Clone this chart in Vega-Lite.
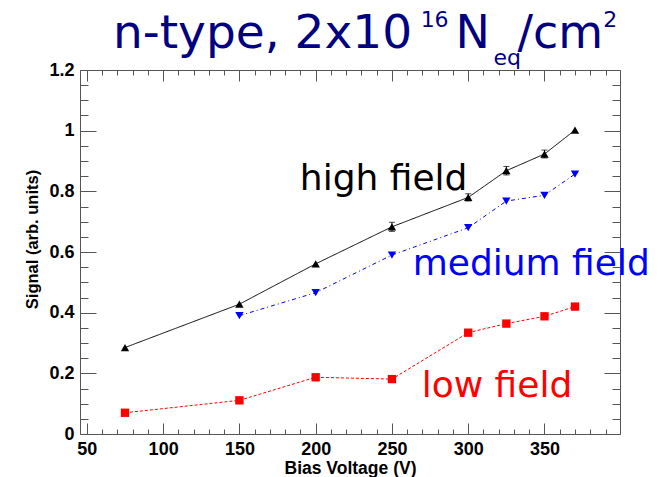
{
  "$schema": "https://vega.github.io/schema/vega-lite/v6.json",
  "width": 540,
  "height": 364,
  "autosize": {"type": "none"},
  "padding": {"left": 80, "top": 70, "right": 49, "bottom": 43},
  "background": "white",
  "config": {"view": {"stroke": "#555", "strokeWidth": 1}},
  "datasets": {
    "main": [
      {"V": 75, "S": 0.285, "series": "high"},
      {"V": 150, "S": 0.428, "series": "high"},
      {"V": 200, "S": 0.561, "series": "high"},
      {"V": 250, "S": 0.683, "series": "high"},
      {"V": 300, "S": 0.780, "series": "high"},
      {"V": 325, "S": 0.868, "series": "high"},
      {"V": 350, "S": 0.923, "series": "high"},
      {"V": 370, "S": 1.002, "series": "high"},
      {"V": 150, "S": 0.390, "series": "medium"},
      {"V": 200, "S": 0.466, "series": "medium"},
      {"V": 250, "S": 0.590, "series": "medium"},
      {"V": 300, "S": 0.680, "series": "medium"},
      {"V": 325, "S": 0.768, "series": "medium"},
      {"V": 350, "S": 0.787, "series": "medium"},
      {"V": 370, "S": 0.857, "series": "medium"},
      {"V": 75, "S": 0.070, "series": "low"},
      {"V": 150, "S": 0.111, "series": "low"},
      {"V": 200, "S": 0.187, "series": "low"},
      {"V": 250, "S": 0.181, "series": "low"},
      {"V": 300, "S": 0.334, "series": "low"},
      {"V": 325, "S": 0.364, "series": "low"},
      {"V": 350, "S": 0.388, "series": "low"},
      {"V": 370, "S": 0.420, "series": "low"}
    ],
    "err": [
      {"V": 250, "lo": 0.668, "hi": 0.698},
      {"V": 300, "lo": 0.768, "hi": 0.792},
      {"V": 325, "lo": 0.854, "hi": 0.882},
      {"V": 350, "lo": 0.910, "hi": 0.936}
    ],
    "one": [{"k": 1}]
  },
  "resolve": {"axis": {"x": "independent", "y": "independent"}},
  "layer": [
    {
      "data": {"name": "main"},
      "mark": {"type": "line", "strokeWidth": 1},
      "encoding": {
        "x": {"field": "V", "type": "quantitative",
          "scale": {"domain": [45.5, 399.5], "nice": false, "zero": false},
          "axis": {"orient": "bottom", "values": [50, 100, 150, 200, 250, 300, 350], "tickSize": -11, "tickColor": "#555",
            "domain": false, "grid": false, "labelFont": "Liberation Sans", "labelFontWeight": "bold", "labelFontSize": 18,
            "labelColor": "black", "labelPadding": 17, "labelFlush": false,
            "title": "Bias Voltage (V)", "titleFont": "Liberation Sans", "titleFontWeight": "bold", "titleFontSize": 17.5, "titleColor": "black",
            "titleY": 39, "titleBaseline": "alphabetic", "titleAlign": "center"}},
        "y": {"field": "S", "type": "quantitative",
          "scale": {"domain": [0, 1.2], "nice": false, "zero": false},
          "axis": {"orient": "left", "values": [0, 0.2, 0.4, 0.6, 0.8, 1, 1.2], "tickSize": -16, "tickColor": "#555",
            "domain": false, "grid": false, "labelFont": "Liberation Sans", "labelFontWeight": "bold", "labelFontSize": 18,
            "labelColor": "black", "labelPadding": 22, "labelFlush": false, "labelExpr": "format(datum.value, '~g')",
            "title": "Signal (arb. units)", "titleFont": "Liberation Sans", "titleFontWeight": "bold", "titleFontSize": 16.5, "titleColor": "black",
            "titleAngle": -90, "titleX": -48, "titleY": 169, "titleAlign": "center", "titleBaseline": "middle"}},
        "color": {"field": "series", "type": "nominal", "scale": {"domain": ["high", "medium", "low"], "range": ["#000000", "#0000ff", "#ff0000"]}, "legend": null},
        "strokeDash": {"field": "series", "type": "nominal", "scale": {"domain": ["high", "medium", "low"], "range": [[1, 0], [4, 3, 1, 3], [3, 2]]}, "legend": null}
      }
    },
    {
      "data": {"name": "err"},
      "mark": {"type": "errorbar", "color": "black", "ticks": {"size": 6}},
      "encoding": {
        "x": {"field": "V", "type": "quantitative", "scale": {"domain": [45.5, 399.5], "nice": false, "zero": false}, "axis": null},
        "y": {"field": "lo", "type": "quantitative", "scale": {"domain": [0, 1.2], "nice": false, "zero": false}, "axis": null},
        "y2": {"field": "hi"}
      }
    },
    {
      "data": {"name": "main"},
      "mark": {"type": "point", "filled": true, "opacity": 1, "size": 70},
      "encoding": {
        "x": {"field": "V", "type": "quantitative",
          "scale": {"domain": [45.5, 399.5], "nice": false, "zero": false},
          "axis": {"orient": "bottom", "values": [60, 70, 80, 90, 110, 120, 130, 140, 160, 170, 180, 190, 210, 220, 230, 240, 260, 270, 280, 290, 310, 320, 330, 340, 360, 370, 380, 390],
            "tickSize": -5, "tickColor": "#555", "domain": false, "grid": false, "labels": false, "title": null}},
        "y": {"field": "S", "type": "quantitative",
          "scale": {"domain": [0, 1.2], "nice": false, "zero": false},
          "axis": {"orient": "left", "values": [0.05, 0.1, 0.15, 0.25, 0.3, 0.35, 0.45, 0.5, 0.55, 0.65, 0.7, 0.75, 0.85, 0.9, 0.95, 1.05, 1.1, 1.15],
            "tickSize": -8, "tickColor": "#555", "domain": false, "grid": false, "labels": false, "title": null}},
        "color": {"field": "series", "type": "nominal", "scale": {"domain": ["high", "medium", "low"], "range": ["#000000", "#0000ff", "#ff0000"]}, "legend": null},
        "shape": {"field": "series", "type": "nominal", "scale": {"domain": ["high", "medium", "low"], "range": ["triangle-up", "triangle-down", "square"]}, "legend": null}
      }
    },
    {
      "data": {"name": "one"},
      "mark": {"type": "text", "text": "high field", "font": "DejaVu Sans", "fontSize": 36, "align": "left", "baseline": "alphabetic", "color": "black"},
      "encoding": {
        "x": {"datum": 189.6, "type": "quantitative", "scale": {"domain": [45.5, 399.5], "nice": false, "zero": false},
          "axis": {"orient": "top", "values": [50, 100, 150, 200, 250, 300, 350], "tickSize": -11, "tickColor": "#555", "domain": false, "grid": false, "labels": false, "title": null}},
        "y": {"datum": 0.804, "type": "quantitative", "scale": {"domain": [0, 1.2], "nice": false, "zero": false},
          "axis": {"orient": "right", "values": [0, 0.2, 0.4, 0.6, 0.8, 1, 1.2], "tickSize": -16, "tickColor": "#555", "domain": false, "grid": false, "labels": false, "title": null}}
      }
    },
    {
      "data": {"name": "one"},
      "mark": {"type": "text", "text": "medium field", "font": "DejaVu Sans", "fontSize": 36, "align": "left", "baseline": "alphabetic", "color": "#0000ff"},
      "encoding": {
        "x": {"datum": 263.6, "type": "quantitative", "scale": {"domain": [45.5, 399.5], "nice": false, "zero": false},
          "axis": {"orient": "top", "values": [60, 70, 80, 90, 110, 120, 130, 140, 160, 170, 180, 190, 210, 220, 230, 240, 260, 270, 280, 290, 310, 320, 330, 340, 360, 370, 380, 390],
            "tickSize": -5, "tickColor": "#555", "domain": false, "grid": false, "labels": false, "title": null}},
        "y": {"datum": 0.524, "type": "quantitative", "scale": {"domain": [0, 1.2], "nice": false, "zero": false},
          "axis": {"orient": "right", "values": [0.05, 0.1, 0.15, 0.25, 0.3, 0.35, 0.45, 0.5, 0.55, 0.65, 0.7, 0.75, 0.85, 0.9, 0.95, 1.05, 1.1, 1.15],
            "tickSize": -8, "tickColor": "#555", "domain": false, "grid": false, "labels": false, "title": null}}
      }
    },
    {
      "data": {"name": "one"},
      "mark": {"type": "text", "text": "low field", "font": "DejaVu Sans", "fontSize": 36, "align": "left", "baseline": "alphabetic", "color": "#ff0000"},
      "encoding": {
        "x": {"datum": 269.5, "type": "quantitative", "scale": {"domain": [45.5, 399.5], "nice": false, "zero": false}, "axis": null},
        "y": {"datum": 0.122, "type": "quantitative", "scale": {"domain": [0, 1.2], "nice": false, "zero": false}, "axis": null}
      }
    },
    {
      "data": {"name": "one"},
      "mark": {"type": "text", "text": "n-type, 2x10", "font": "DejaVu Sans", "fontSize": 47, "align": "left", "baseline": "alphabetic", "color": "#000080"},
      "encoding": {
        "x": {"datum": 67.1, "type": "quantitative", "scale": {"domain": [45.5, 399.5], "nice": false, "zero": false}, "axis": null},
        "y": {"datum": 1.2727, "type": "quantitative", "scale": {"domain": [0, 1.2], "nice": false, "zero": false}, "axis": null}
      }
    },
    {
      "data": {"name": "one"},
      "mark": {"type": "text", "text": "16", "font": "DejaVu Sans", "fontSize": 22, "align": "left", "baseline": "alphabetic", "color": "#000080"},
      "encoding": {
        "x": {"datum": 268.8, "type": "quantitative", "scale": {"domain": [45.5, 399.5], "nice": false, "zero": false}, "axis": null},
        "y": {"datum": 1.342, "type": "quantitative", "scale": {"domain": [0, 1.2], "nice": false, "zero": false}, "axis": null}
      }
    },
    {
      "data": {"name": "one"},
      "mark": {"type": "text", "text": "N", "font": "DejaVu Sans", "fontSize": 46, "align": "left", "baseline": "alphabetic", "color": "#000080"},
      "encoding": {
        "x": {"datum": 291.7, "type": "quantitative", "scale": {"domain": [45.5, 399.5], "nice": false, "zero": false}, "axis": null},
        "y": {"datum": 1.2727, "type": "quantitative", "scale": {"domain": [0, 1.2], "nice": false, "zero": false}, "axis": null}
      }
    },
    {
      "data": {"name": "one"},
      "mark": {"type": "text", "text": "eq", "font": "DejaVu Sans", "fontSize": 22, "align": "left", "baseline": "alphabetic", "color": "#000080"},
      "encoding": {
        "x": {"datum": 316.6, "type": "quantitative", "scale": {"domain": [45.5, 399.5], "nice": false, "zero": false}, "axis": null},
        "y": {"datum": 1.2166, "type": "quantitative", "scale": {"domain": [0, 1.2], "nice": false, "zero": false}, "axis": null}
      }
    },
    {
      "data": {"name": "one"},
      "mark": {"type": "text", "text": "/cm", "font": "DejaVu Sans", "fontSize": 46, "align": "left", "baseline": "alphabetic", "color": "#000080"},
      "encoding": {
        "x": {"datum": 332.3, "type": "quantitative", "scale": {"domain": [45.5, 399.5], "nice": false, "zero": false}, "axis": null},
        "y": {"datum": 1.2727, "type": "quantitative", "scale": {"domain": [0, 1.2], "nice": false, "zero": false}, "axis": null}
      }
    },
    {
      "data": {"name": "one"},
      "mark": {"type": "text", "text": "2", "font": "DejaVu Sans", "fontSize": 22, "align": "left", "baseline": "alphabetic", "color": "#000080"},
      "encoding": {
        "x": {"datum": 388.6, "type": "quantitative", "scale": {"domain": [45.5, 399.5], "nice": false, "zero": false}, "axis": null},
        "y": {"datum": 1.342, "type": "quantitative", "scale": {"domain": [0, 1.2], "nice": false, "zero": false}, "axis": null}
      }
    }
  ]
}
